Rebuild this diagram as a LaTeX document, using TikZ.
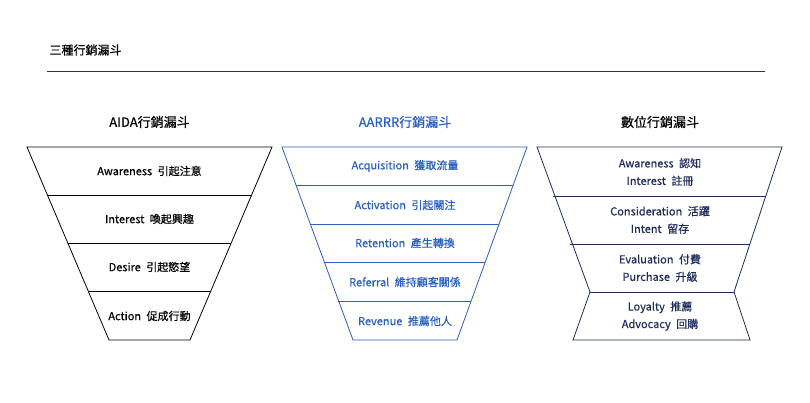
\documentclass[tikz,border=0pt]{standalone}
\usepackage{fontspec}
\setmainfont{Noto Sans CJK TC}
\newfontfamily\medfont[FakeBold=0.5]{Noto Sans CJK TC}
\begin{document}
\begin{tikzpicture}[x=1pt,y=-1pt,
  lbl/.style={font=\medfont\fontsize{11}{17.5}\selectfont,align=center},
  head/.style={font=\medfont\fontsize{13}{15}\selectfont}]
\definecolor{navy}{HTML}{1F2D5C}
\definecolor{blu}{HTML}{2A5FC4}
\useasboundingbox[fill=white] (0,0) rectangle (810,403);
\node[anchor=west,font=\medfont\fontsize{12}{14}\selectfont] (title) at (46,50) {三種行銷漏斗};
\draw[black!80,line width=0.8pt] (47,71) coordinate (l1) -- (765,71) coordinate (l2);
% Funnel 1
\node[head] (h1) at (149.5,122) {AIDA行銷漏斗};
\begin{scope}[black,line width=0.8pt]
\draw (27,147) -- (272,147) -- (190,340) -- (109,340) -- cycle;
\draw (47.3,195) -- (251.7,195);
\draw (67.7,243) -- (231.3,243);
\draw (88.1,291) -- (210.9,291);
\end{scope}
\node[lbl] (a1) at (149.5,171) {Awareness\enspace 引起注意};
\node[lbl] (a2) at (149.5,219) {Interest\enspace 喚起興趣};
\node[lbl] (a3) at (149.5,267) {Desire\enspace 引起慾望};
\node[lbl] (a4) at (149.5,316) {Action\enspace 促成行動};
% Funnel 2
\node[head,text=blu] (h2) at (405,122) {AARRR行銷漏斗};
\begin{scope}[blu,line width=0.8pt]
\draw (282,147) -- (527,147) -- (457,340) -- (353,340) -- cycle;
\draw (295.8,185) -- (513.2,185);
\draw (309.8,224) -- (499.1,224);
\draw (323.6,262) -- (485.3,262);
\draw (337.6,301) -- (471.1,301);
\end{scope}
\begin{scope}[every node/.style={lbl,text=blu}]
\node (b1) at (405,166) {Acquisition\enspace 獲取流量};
\node (b2) at (405,205) {Activation\enspace 引起關注};
\node (b3) at (405,243) {Retention\enspace 產生轉換};
\node (b4) at (405,282) {Referral\enspace 維持顧客關係};
\node (b5) at (405,321) {Revenue\enspace 推薦他人};
\end{scope}
% Funnel 3
\node[head] (h3) at (660,122) {數位行銷漏斗};
\begin{scope}[navy,line width=0.8pt]
\draw (537,147) -- (782,147) -- (734,292) -- (750,340) -- (573,340) -- (590,292) -- cycle;
\draw (553,196) -- (766,196);
\draw (569.5,244) -- (750,244);
\draw (590,292) -- (734,292);
\end{scope}
\begin{scope}[every node/.style={lbl,text=navy}]
\node (c1) at (660,172) {Awareness\enspace 認知\\Interest\enspace 註冊};
\node (c2) at (660,220) {Consideration\enspace 活躍\\Intent\enspace 留存};
\node (c3) at (660,268) {Evaluation\enspace 付費\\Purchase\enspace 升級};
\node (c4) at (660,316) {Loyalty\enspace 推薦\\Advocacy\enspace 回購};
\end{scope}
\end{tikzpicture}
\end{document}
